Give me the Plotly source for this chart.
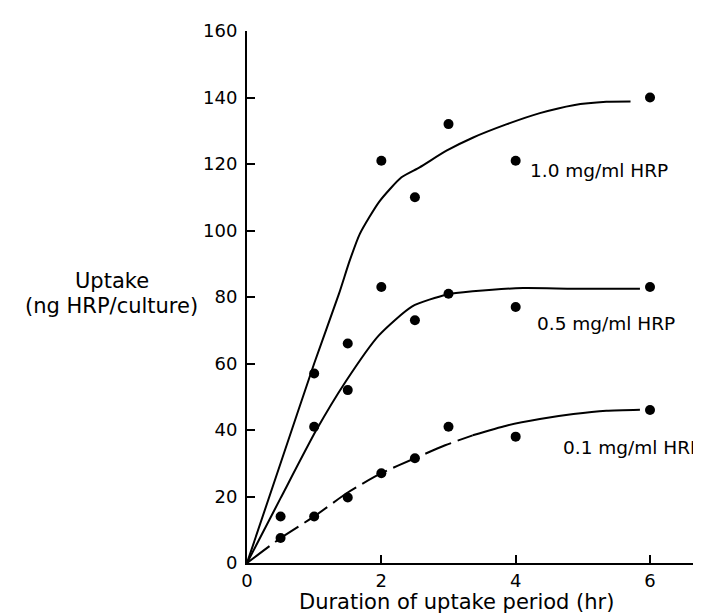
import plotly.graph_objects as go

# ---- data ----
hours_10 = [1, 1.5, 2, 2.5, 3, 4, 6]
uptake_10 = [57, 66, 121, 110, 132, 121, 140]

hours_05 = [0.5, 1, 1.5, 2, 2.5, 3, 4, 6]
uptake_05 = [14, 41, 52, 83, 73, 81, 77, 83]

hours_01 = [0.5, 1, 1.5, 2, 2.5, 3, 4, 6]
uptake_01 = [7.5, 14, 19.7, 27, 31.5, 41, 38, 46]

# hand-drawn fitted curves
curve_x_10 = [0, 0.5, 1, 1.37, 1.53, 1.68, 1.97, 2.3, 2.57, 2.97, 3.36, 3.86, 4.36, 4.86, 5.35, 5.71]
curve_y_10 = [0, 30, 60, 81, 91, 99, 108.7, 116, 119, 124, 127.9, 131.9, 135.3, 137.7, 138.7, 138.8]

curve_x_05 = [0, 0.5, 1.03, 1.47, 1.96, 2.46, 2.97, 3.36, 4.11, 4.86, 5.85]
curve_y_05 = [0, 19.5, 39.9, 54.6, 68.4, 77.2, 80.7, 81.7, 82.7, 82.5, 82.5]

curve_x_01_dashed = [0, 0.5, 1, 1.5, 2, 2.5, 2.95, 3.36]
curve_y_01_dashed = [0, 7.5, 14, 21.2, 27, 31.5, 35.4, 38.4]
curve_x_01_solid = [3.36, 3.86, 4.36, 4.86, 5.35, 5.85]
curve_y_01_solid = [38.4, 41.3, 43.3, 44.8, 45.8, 46.1]

series_labels = ["1.0 mg/ml HRP", "0.5 mg/ml HRP", "0.1 mg/ml HRP"]
label_x = [4.18, 4.29, 4.68]
label_y = [118, 72, 34.8]

x_ticks = [0, 2, 4, 6]
y_ticks = [0, 20, 40, 60, 80, 100, 120, 140, 160]

FONT = "DejaVu Sans"

fig = go.Figure()

line_style = dict(color="black", width=2, shape="spline", smoothing=0.6)

fig.add_trace(go.Scatter(x=curve_x_10, y=curve_y_10, mode="lines", line=line_style, hoverinfo="skip"))
fig.add_trace(go.Scatter(x=curve_x_05, y=curve_y_05, mode="lines", line=line_style, hoverinfo="skip"))
fig.add_trace(go.Scatter(x=curve_x_01_dashed, y=curve_y_01_dashed, mode="lines",
                         line=dict(line_style, dash="28px,7px"), hoverinfo="skip"))
fig.add_trace(go.Scatter(x=curve_x_01_solid, y=curve_y_01_solid, mode="lines", line=line_style, hoverinfo="skip"))

marker_style = dict(color="black", size=10, symbol="circle")
for xs, ys, name in [(hours_10, uptake_10, series_labels[0]),
                     (hours_05, uptake_05, series_labels[1]),
                     (hours_01, uptake_01, series_labels[2])]:
    fig.add_trace(go.Scatter(x=xs, y=ys, mode="markers", marker=marker_style, name=name, cliponaxis=False))

for txt, lx, ly in zip(series_labels, label_x, label_y):
    fig.add_annotation(x=lx, y=ly, text=txt, showarrow=False, xanchor="left", yanchor="middle",
                       font=dict(family=FONT, size=18.5, color="black"))

# axis titles as annotations
fig.add_annotation(xref="paper", yref="paper", x=-0.303, y=0.531, text="Uptake", showarrow=False,
                   xanchor="center", yanchor="middle", font=dict(family=FONT, size=21, color="black"))
fig.add_annotation(xref="paper", yref="paper", x=-0.303, y=0.483, text="(ng HRP/culture)", showarrow=False,
                   xanchor="center", yanchor="middle", font=dict(family=FONT, size=21, color="black"))
fig.add_annotation(xref="paper", yref="paper", x=0.4697, y=-0.0738, text="Duration of uptake period (hr)",
                   showarrow=False, xanchor="center", yanchor="middle",
                   font=dict(family=FONT, size=21, color="black"))

axis_common = dict(showline=True, linecolor="black", linewidth=2, ticks="inside", ticklen=8,
                   tickwidth=2, tickcolor="black", showgrid=False, zeroline=False,
                   tickfont=dict(family=FONT, size=18, color="black"))

fig.update_xaxes(range=[0, 6.64], tickvals=x_ticks, ticktext=[str(v) for v in x_ticks], **axis_common)
fig.update_yaxes(range=[0, 160], tickvals=y_ticks, ticktext=[str(v) for v in y_ticks],
                 ticklabelstandoff=4, **axis_common)

fig.update_layout(width=701, height=613, margin=dict(l=239, r=16, t=13, b=58),
                  plot_bgcolor="white", paper_bgcolor="white", showlegend=False,
                  font=dict(family=FONT, color="black"))

fig.write_html("out.html")
